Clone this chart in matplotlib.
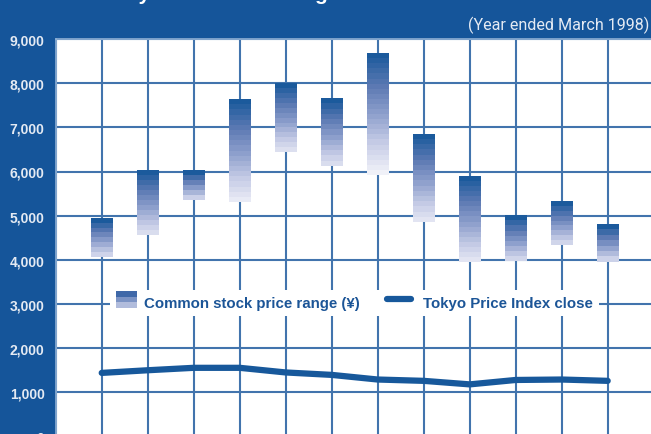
import numpy as np
import matplotlib
matplotlib.use("Agg")
import matplotlib.pyplot as plt
from matplotlib.colors import LinearSegmentedColormap
from matplotlib.patches import Rectangle
from matplotlib.lines import Line2D
from matplotlib.legend_handler import HandlerBase

plt.rcParams["font.family"] = ["Liberation Sans", "DejaVu Sans"]

# ---------- data ----------
months = np.arange(1, 13)
price_high = [4950, 6030, 6030, 7640, 8000, 7660, 8680, 6850, 5900, 5010, 5330, 4810]
price_low = [4070, 4560, 5360, 5310, 6440, 6130, 5920, 4860, 3950, 3970, 4340, 3960]
topix_close = [1440, 1500, 1555, 1555, 1450, 1395, 1290, 1260, 1180, 1280, 1290, 1260]
y_ticks = [0, 1000, 2000, 3000, 4000, 5000, 6000, 7000, 8000, 9000]

BG = "#15559a"
GRID = "#4274ad"
DARK = "#17589b"
TEXT_LIGHT = "#e4eaf3"

cmap = LinearSegmentedColormap.from_list(
    "band", ["#f0f1f8", "#c6cce6", "#8d9fcc", "#5a78b2", "#1b5a9c"])

fig = plt.figure(figsize=(6.51, 4.35), dpi=100, facecolor=BG)
ax = fig.add_axes([55.7 / 651, (435 - 437.5) / 435, 598 / 651, 397.5 / 435])
ax.set_facecolor("white")
ax.set_xlim(0, 13)
ax.set_ylim(0, 9000)

ax.set_xticks(np.arange(0, 14))
ax.set_yticks(y_ticks)
ax.set_yticklabels([f"{v:,}" for v in y_ticks])
ax.set_xticklabels([])
ax.tick_params(axis="both", length=0)
ax.tick_params(axis="y", pad=8, labelsize=10, labelcolor=TEXT_LIGHT)
for lab in ax.get_yticklabels():
    lab.set_fontweight("bold")
ax.grid(True, color=GRID, lw=1.5, zorder=0)
ax.set_axisbelow(True)
for s in ax.spines.values():
    s.set_color("#8fb0d4")
    s.set_linewidth(1.2)

# ---------- banded gradient bars ----------
band_step = 115
bar_w = 0.48
for x, lo, hi in zip(months, price_low, price_high):
    n = max(3, int(round((hi - lo) / band_step)))
    edges = np.linspace(lo, hi, n + 1)
    t_bottom = max(0.0, 0.3 - 0.0125 * n)
    ts = np.linspace(t_bottom, 1.0, n)
    for i in range(n):
        ax.bar(x, edges[i + 1] - edges[i], bottom=edges[i], width=bar_w,
               color=cmap(ts[i]), lw=0, zorder=3)

ax.plot(months, topix_close, color=DARK, lw=4.5, solid_capstyle="round",
        solid_joinstyle="round", zorder=4)


# ---------- legend ----------
class BandHandler(HandlerBase):
    def create_artists(self, legend, orig, xd, yd, w, h, fs, trans):
        cols = ["#3f68a8", "#7b93c4", "#b1bcdc"]
        bh = h * 1.25 / 3
        y0 = yd - h * 0.15
        arts = []
        for k, c in enumerate(cols):
            r = Rectangle((xd, y0 + (2 - k) * bh), w, bh, facecolor=c, lw=0,
                          transform=trans)
            arts.append(r)
        return arts


class LineHandler(HandlerBase):
    def create_artists(self, legend, orig, xd, yd, w, h, fs, trans):
        ln = Line2D([xd - 0.35 * w, xd + w - 3], [yd + h / 2, yd + h / 2],
                    color=DARK, lw=4.5, solid_capstyle="round", transform=trans)
        return [ln]


band_proxy = Rectangle((0, 0), 1, 1)
line_proxy = Line2D([], [])
leg = ax.legend([band_proxy, line_proxy],
                ["Common stock price range (\u00a5)", "Tokyo Price Index close"],
                handler_map={Rectangle: BandHandler(), Line2D: LineHandler()},
                loc="center", bbox_to_anchor=(0.4995, 0.336), ncol=2,
                frameon=True, fancybox=False, framealpha=1, edgecolor="white",
                prop={"size": 10.8, "weight": "bold"}, handlelength=1.4,
                handleheight=1.0, handletextpad=0.5, columnspacing=2.3,
                borderpad=0.4, borderaxespad=0)
leg.get_frame().set_linewidth(0)
leg.set_zorder(6)
for t in leg.get_texts():
    t.set_color("#1c5597")

# ---------- header texts ----------
fig.text(649 / 651, 1 - 25 / 435, "(Year ended March 1998)", ha="right",
         va="center", color=TEXT_LIGHT, fontsize=11.6,
         family=["Roboto", "DejaVu Sans"])
fig.text(70 / 651, 1 - 0.3 / 435, "Monthly Stock Price Range", ha="left",
         va="baseline", color="white", fontsize=15, fontweight="bold")

fig.savefig("out.png", dpi=100, facecolor=BG)
